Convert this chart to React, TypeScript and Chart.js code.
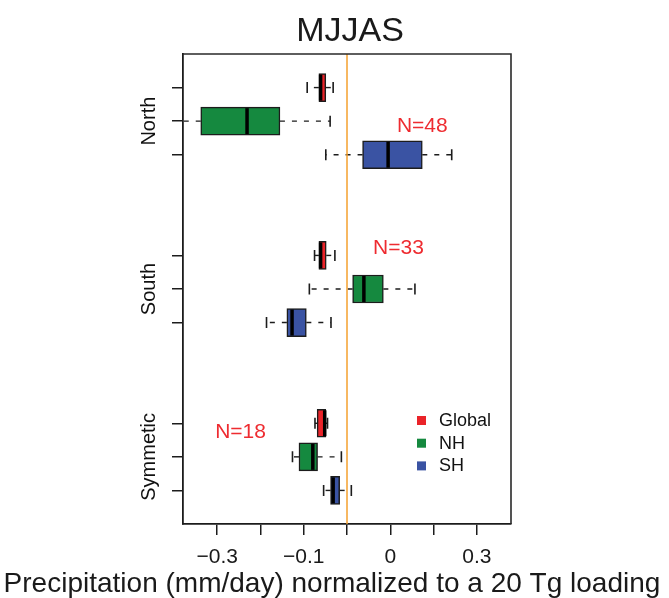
import React, { useEffect, useRef } from "react";
import { Chart, registerables } from "chart.js";

Chart.register(...registerables);

// ---- data ----
const groups = ["North", "South", "Symmetic"];
const seriesNames = ["Global", "NH", "SH"];
const seriesColors = ["#EA2329", "#15893F", "#3A53A3"];

// row index (category slot) of each series within each group
const globalRows = [1, 6, 11];
const nhRows = [2, 7, 12];
const shRows = [3, 8, 13];

const globalMin = [-0.092, -0.075, -0.074];
const globalQ1 = [-0.065, -0.065, -0.069];
const globalMed = [-0.061, -0.061, -0.0515];
const globalQ3 = [-0.049, -0.048, -0.049];
const globalMax = [-0.032, -0.028, -0.045];

const nhMin = [-0.4, -0.087, -0.126];
const nhQ1 = [-0.338, 0.013, -0.111];
const nhMed = [-0.231, 0.039, -0.079];
const nhQ3 = [-0.155, 0.084, -0.068];
const nhMax = [-0.039, 0.157, -0.013];

const shMin = [-0.049, -0.186, -0.054];
const shQ1 = [0.036, -0.139, -0.038];
const shMed = [0.095, -0.127, -0.032];
const shQ3 = [0.174, -0.094, -0.017];
const shMax = [0.242, -0.037, 0.01];

const xTickValues = [-0.3, -0.2, -0.1, 0, 0.1, 0.2, 0.3];
const xTickLabels = ["\u22120.3", "", "\u22120.1", "", "0", "", "0.3"];
const refLine = 0;

const nLabels = ["N=48", "N=33", "N=18"];
const nLabelX = [0.174, 0.119, -0.246];
const nLabelY = [2.15, 5.78, 11.27];

const titleText = "MJJAS";
const xTitle = "Precipitation (mm/day) normalized to a 20 Tg loading";

const seriesStats = [
  { rows: globalRows, min: globalMin, q1: globalQ1, med: globalMed, q3: globalQ3, max: globalMax },
  { rows: nhRows, min: nhMin, q1: nhQ1, med: nhMed, q3: nhQ3, max: nhMax },
  { rows: shRows, min: shMin, q1: shQ1, med: shMed, q3: shQ3, max: shMax },
];

const FONT = "'Liberation Sans', Arial, sans-serif";
const INK = "#1c1c1c";

const boxExtras = {
  id: "boxExtras",
  beforeDatasetsDraw(chart: any) {
    const { ctx, chartArea: a, scales } = chart;
    const x = scales.x;
    const y = scales.y;
    ctx.save();
    ctx.beginPath();
    ctx.rect(a.left, a.top, a.right - a.left, a.bottom - a.top);
    ctx.clip();
    ctx.strokeStyle = INK;
    seriesStats.forEach((s) => {
      s.rows.forEach((r, g) => {
        const py = y.getPixelForValue(r);
        const pMin = x.getPixelForValue(s.min[g]);
        const pQ1 = x.getPixelForValue(s.q1[g]);
        const pQ3 = x.getPixelForValue(s.q3[g]);
        const pMax = x.getPixelForValue(s.max[g]);
        ctx.lineWidth = 1.4;
        ctx.setLineDash([5, 7]);
        ctx.beginPath();
        ctx.moveTo(pQ1, py);
        ctx.lineTo(pMin, py);
        ctx.stroke();
        ctx.beginPath();
        ctx.moveTo(pQ3, py);
        ctx.lineTo(pMax, py);
        ctx.stroke();
        ctx.setLineDash([]);
        ctx.lineWidth = 1.6;
        ctx.beginPath();
        ctx.moveTo(pMin, py - 5.5);
        ctx.lineTo(pMin, py + 5.5);
        ctx.moveTo(pMax, py - 5.5);
        ctx.lineTo(pMax, py + 5.5);
        ctx.stroke();
      });
    });
    ctx.restore();
  },
  afterDatasetsDraw(chart: any) {
    const { ctx, chartArea: a, scales } = chart;
    const x = scales.x;
    const y = scales.y;
    ctx.save();
    // reference line
    const px0 = x.getPixelForValue(refLine);
    ctx.strokeStyle = "#F5A02E";
    ctx.lineWidth = 1.5;
    ctx.beginPath();
    ctx.moveTo(px0, a.top);
    ctx.lineTo(px0, a.bottom);
    ctx.stroke();
    // medians
    ctx.strokeStyle = "#000";
    ctx.lineWidth = 3.5;
    seriesStats.forEach((s) => {
      s.rows.forEach((r, g) => {
        const py = y.getPixelForValue(r);
        const pm = x.getPixelForValue(s.med[g]);
        ctx.beginPath();
        ctx.moveTo(pm, py - 13);
        ctx.lineTo(pm, py + 13);
        ctx.stroke();
      });
    });
    // frame top/right
    ctx.strokeStyle = "#2a2a2a";
    ctx.lineWidth = 1.6;
    ctx.beginPath();
    ctx.moveTo(a.left, a.top);
    ctx.lineTo(a.right, a.top);
    ctx.lineTo(a.right, a.bottom);
    ctx.stroke();
    // N labels
    ctx.fillStyle = "#EE2B30";
    ctx.font = `21px ${FONT}`;
    ctx.textAlign = "center";
    ctx.textBaseline = "middle";
    nLabels.forEach((t, i) => {
      ctx.fillText(t, x.getPixelForValue(nLabelX[i]), y.getPixelForValue(nLabelY[i]));
    });
    // legend
    ctx.font = `18px ${FONT}`;
    ctx.textAlign = "left";
    seriesNames.forEach((n, i) => {
      const cy = a.top + 366.5 + i * 22.7;
      ctx.fillStyle = seriesColors[i];
      ctx.fillRect(a.right - 94, cy - 4.5, 9, 9);
      ctx.fillStyle = "#111";
      ctx.fillText(n, a.right - 72, cy + 0.5);
    });
    // group labels (rotated)
    ctx.font = `20px ${FONT}`;
    ctx.fillStyle = "#111";
    ctx.textAlign = "center";
    groups.forEach((gname, g) => {
      const cy = y.getPixelForValue(nhRows[g]);
      ctx.save();
      ctx.translate(149, cy);
      ctx.rotate(-Math.PI / 2);
      ctx.fillText(gname, 0, 0);
      ctx.restore();
    });
    ctx.restore();
  },
  afterDraw(chart: any) {
    const { ctx } = chart;
    ctx.save();
    ctx.fillStyle = "#1a1a1a";
    ctx.textAlign = "center";
    ctx.textBaseline = "alphabetic";
    ctx.font = `34px ${FONT}`;
    ctx.fillText(titleText, 350, 41);
    ctx.font = `28px ${FONT}`;
    ctx.fillText(xTitle, 332, 592);
    ctx.restore();
  },
};

export default function App() {
  const ref = useRef<HTMLCanvasElement | null>(null);
  useEffect(() => {
    if (!ref.current) return;
    const datasets = seriesStats.map((s, i) => ({
      label: seriesNames[i],
      data: s.rows.map((r, g) => ({ y: r, x: [s.q1[g], s.q3[g]] })),
      backgroundColor: seriesColors[i],
      borderColor: INK,
      borderWidth: 1.5,
      borderSkipped: false as const,
      barThickness: 28,
      grouped: false,
    }));
    const chart = new Chart(ref.current, {
      type: "bar",
      data: { datasets },
      plugins: [boxExtras],
      options: {
        indexAxis: "y",
        responsive: false,
        animation: false,
        events: [],
        layout: { padding: { top: 54, right: 158, left: 0, bottom: 0 } },
        plugins: { legend: { display: false }, tooltip: { enabled: false }, title: { display: false } },
        scales: {
          x: {
            type: "linear",
            min: -0.379,
            max: 0.379,
            afterBuildTicks: (scale: any) => {
              scale.ticks = xTickValues.map((v) => ({ value: v }));
            },
            afterFit: (scale: any) => {
              scale.height = 74;
            },
            ticks: {
              autoSkip: false,
              maxRotation: 0,
              padding: 10,
              color: "#1a1a1a",
              font: { size: 21, family: FONT },
              callback: (_v: any, i: number) => xTickLabels[i],
            },
            grid: { drawOnChartArea: false, drawTicks: true, tickLength: 11, color: INK, lineWidth: 1.5 },
            border: { display: true, color: INK, width: 1.8 },
          },
          y: {
            type: "linear",
            min: 0,
            max: 14,
            reverse: true,
            offset: false,
            afterBuildTicks: (scale: any) => {
              scale.ticks = [...globalRows, ...nhRows, ...shRows].sort((p, q) => p - q).map((v) => ({ value: v }));
            },
            afterFit: (scale: any) => {
              scale.width = 183;
            },
            ticks: { display: false },
            grid: { offset: false, drawOnChartArea: false, drawTicks: true, tickLength: 11, color: INK, lineWidth: 1.5 },
            border: { display: true, color: INK, width: 1.8 },
          },
        },
      } as any,
    });
    return () => chart.destroy();
  }, []);
  return (
    <div style={{ position: "fixed", left: 0, top: 0, width: 669, height: 598, background: "#fff" }}>
      <canvas ref={ref} width={669} height={598} style={{ display: "block" }} />
    </div>
  );
}
